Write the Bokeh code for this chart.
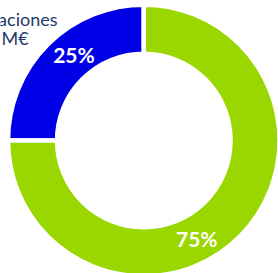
import numpy as np
from bokeh.plotting import figure
from bokeh.models import Range1d, ColumnDataSource
from bokeh.core.properties import value
from bokeh.embed import file_html
from bokeh.resources import INLINE

# ---- data ----
categories = ["Segmento A", "Segmento B"]
shares = [25, 75]
labels = ["25%", "75%"]
colors = ["#0000E6", "#9AD600"]
title_lines = ["operaciones", "M€"]

W, H = 278, 273
cx, cy = 143.3, H - 140
r_out, r_in = 133.5, 89
gap = 4.5
label_r = 111
label_angle_deg = [129, 298.5]

frac = np.array(shares, dtype=float) / sum(shares)
cum = np.concatenate([[0], np.cumsum(frac)]) * 2 * np.pi
start = np.pi / 2 + cum[:-1]
end = np.pi / 2 + cum[1:]

src = ColumnDataSource(dict(cat=categories, start=start, end=end, color=colors))

la = np.radians(label_angle_deg)
lsrc = ColumnDataSource(dict(x=cx + label_r * np.cos(la), y=cy + label_r * np.sin(la), t=labels))

p = figure(width=W, height=H, x_range=Range1d(0, W), y_range=Range1d(0, H),
           output_backend="svg", toolbar_location=None, min_border=0,
           styles={"position": "absolute", "left": "0px", "top": "0px"})
p.axis.visible = False
p.grid.visible = False
p.outline_line_color = None
p.background_fill_color = "white"

# the white outline eats half its width on every edge, so pad the radii
p.annular_wedge(x=cx, y=cy, inner_radius=r_in - gap / 2, outer_radius=r_out + gap / 2,
                start_angle="start", end_angle="end", fill_color="color",
                line_color="white", line_width=gap, source=src)

p.text(x="x", y="y", text="t", source=lsrc, text_color="white",
       text_font=value("Lato"), text_font_style="bold", text_font_size="21px",
       text_align="center", text_baseline="middle")

p.text(x=[57], y=[H - 18.5], text=[title_lines[0]], text_color="#1F3A6B",
       text_font=value("Lato"), text_font_size="18px",
       text_align="right", text_baseline="alphabetic")
p.text(x=[1], y=[H - 37], text=[title_lines[1]], text_color="#1F3A6B",
       text_font=value("Lato"), text_font_size="18px",
       text_align="left", text_baseline="alphabetic")

open("out.html", "w").write(file_html(p, INLINE))
